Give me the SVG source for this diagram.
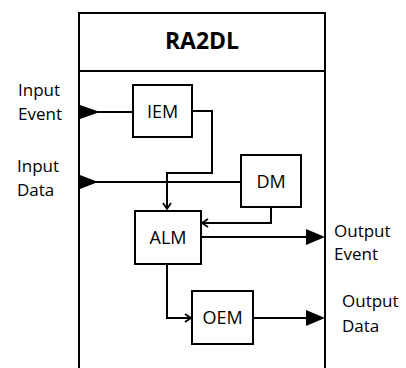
<svg xmlns="http://www.w3.org/2000/svg" width="406" height="368" viewBox="0 0 406 368">
<defs>
<style>
.box{fill:#fff;stroke:#000;stroke-width:2}
.ln{fill:none;stroke:#000;stroke-width:2}
.t{font-family:"Open Sans","Liberation Sans",sans-serif;font-size:17px;fill:#000}
.n{font-family:"Open Sans","Liberation Sans",sans-serif;font-size:18px;fill:#000;text-anchor:middle}
.tt{font-family:"Open Sans","Liberation Sans",sans-serif;font-size:23px;font-weight:bold;text-anchor:middle}
</style>
<marker id="open" markerWidth="10" markerHeight="10" refX="8" refY="5" orient="auto" markerUnits="userSpaceOnUse">
<path d="M2,1 L8,5 L2,9" fill="none" stroke="#000" stroke-width="1.8"/>
</marker>
</defs>
<rect width="406" height="368" fill="#fff"/>
<g id="ra2dl">
<rect class="box" x="79" y="13" width="246" height="370"/>
<line class="ln" x1="79" y1="71" x2="325" y2="71"/>
<text class="tt" x="202" y="49">RA2DL</text>
</g>
<g id="connectors">
<line class="ln" x1="80" y1="112" x2="133" y2="112"/>
<polygon points="80,105 100,112 80,119"/>
<line class="ln" x1="80" y1="182" x2="241" y2="182"/>
<polygon points="80,175 98,182 80,189"/>
<polyline class="ln" points="192,111 212,111 212,173 167,173 167,209" marker-end="url(#open)"/>
<polyline class="ln" points="271,207 271,223 202,223" marker-end="url(#open)"/>
<line class="ln" x1="201" y1="237" x2="310" y2="237"/>
<polygon points="306,229 325,237 306,245"/>
<polyline class="ln" points="167,264 167,318 191,318" marker-end="url(#open)"/>
<line class="ln" x1="253" y1="318" x2="310" y2="318"/>
<polygon points="306,310 325,318 306,326"/>
</g>
<g id="IEM">
<rect class="box" x="133" y="85" width="59" height="52"/>
<text class="n" x="162.5" y="118">IEM</text>
</g>
<g id="DM">
<rect class="box" x="241" y="155" width="60" height="52"/>
<text class="n" x="271" y="188">DM</text>
</g>
<g id="ALM">
<rect class="box" x="135" y="211" width="66" height="53"/>
<text class="n" x="168" y="244">ALM</text>
</g>
<g id="OEM">
<rect class="box" x="192" y="291" width="61" height="53"/>
<text class="n" x="222.5" y="324">OEM</text>
</g>
<g id="labels">
<text class="t" x="18" y="96">Input</text>
<text class="t" x="18" y="120">Event</text>
<text class="t" x="17" y="172">Input</text>
<text class="t" x="17" y="196">Data</text>
<text class="t" x="334" y="237">Output</text>
<text class="t" x="334" y="260">Event</text>
<text class="t" x="342" y="307">Output</text>
<text class="t" x="342" y="332">Data</text>
</g>
</svg>
